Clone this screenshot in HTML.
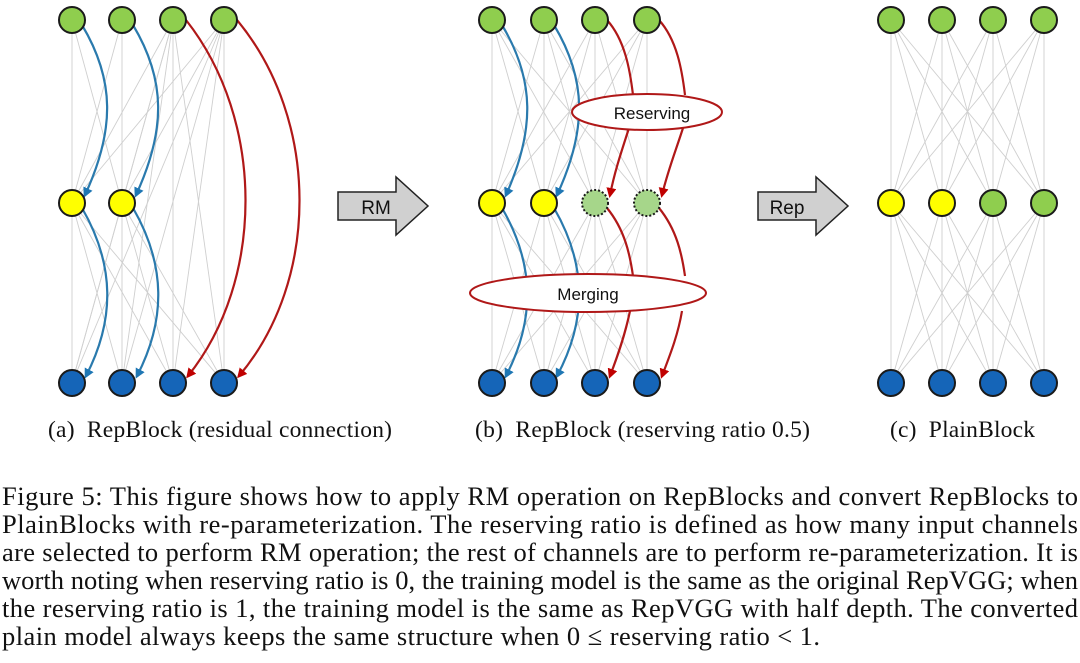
<!DOCTYPE html>
<html><head><meta charset="utf-8"><style>
html,body{margin:0;padding:0;background:#fff;}
svg{display:block;}
.t{font-family:"Liberation Serif",serif;font-size:26.5px;fill:#111;}
.c{font-family:"Liberation Serif",serif;font-size:23.5px;fill:#111;}
.s{font-family:"Liberation Sans",sans-serif;fill:#111;}
</style></head><body>
<svg id="s" width="1080" height="663" viewBox="0 0 1080 663" xmlns="http://www.w3.org/2000/svg">
<defs>
<marker id="ab" markerWidth="10" markerHeight="10" refX="7" refY="5" orient="auto" markerUnits="userSpaceOnUse"><path d="M0,0 L10,5 L0,10 z" fill="#1f77b4"/></marker>
<marker id="ar" markerWidth="10" markerHeight="10" refX="7" refY="5" orient="auto" markerUnits="userSpaceOnUse"><path d="M0,0 L10,5 L0,10 z" fill="#c00000"/></marker>
</defs>
<g id="gray" stroke="#cfcfcf" stroke-width="0.9"></g>
<g fill="none" stroke-width="2.2">
<path d="M82,25 C115,80 115,130 85,195" stroke="#2a7aad" marker-end="url(#ab)"/>
<path d="M133,25 C166,80 166,130 136,195" stroke="#2a7aad" marker-end="url(#ab)"/>
<path d="M82,208 C115,265 115,320 86,376" stroke="#2a7aad" marker-end="url(#ab)"/>
<path d="M133,208 C166,265 166,320 137,376" stroke="#2a7aad" marker-end="url(#ab)"/>
<path d="M186,20 C265,120 265,280 188,376" stroke="#b01818" marker-end="url(#ar)"/>
<path d="M237,20 C320,120 320,280 239,376" stroke="#b01818" marker-end="url(#ar)"/>
<path d="M502,25 C535,80 535,130 506,195" stroke="#2a7aad" marker-end="url(#ab)"/>
<path d="M554,25 C587,80 587,130 557,195" stroke="#2a7aad" marker-end="url(#ab)"/>
<path d="M502,208 C535,265 535,320 506,376" stroke="#2a7aad" marker-end="url(#ab)"/>
<path d="M554,208 C587,265 587,320 557,376" stroke="#2a7aad" marker-end="url(#ab)"/>
<path d="M607,20 C625,40 630,70 633,95" stroke="#b01818"/>
<path d="M659,20 C677,40 682,70 685,95" stroke="#b01818"/>
<path d="M629,128 C622,150 615,170 610,195" stroke="#b01818" marker-end="url(#ar)"/>
<path d="M683,128 C676,150 668,170 662,195" stroke="#b01818" marker-end="url(#ar)"/>
<path d="M607,208 C625,230 630,255 633,276" stroke="#b01818"/>
<path d="M659,208 C677,230 682,255 685,276" stroke="#b01818"/>
<path d="M630,311 C625,335 618,355 610,376" stroke="#b01818" marker-end="url(#ar)"/>
<path d="M682,311 C678,335 670,355 662,376" stroke="#b01818" marker-end="url(#ar)"/>
</g>
<ellipse cx="647" cy="112" rx="75" ry="18" fill="#fff" stroke="#b01818" stroke-width="2"/>
<text x="652" y="119" class="s" font-size="17" text-anchor="middle">Reserving</text>
<ellipse cx="588" cy="293" rx="118" ry="19" fill="#fff" stroke="#b01818" stroke-width="2"/>
<text x="588" y="300" class="s" font-size="17" text-anchor="middle">Merging</text>
<g id="nodes" stroke="#1a1a1a" stroke-width="2"></g>
<path d="M338,192 L396,192 L396,177 L428,206 L396,235 L396,220 L338,220 Z" fill="#d0d0d0" stroke="#222" stroke-width="1.5"/>
<text x="376" y="214" class="s" font-size="19" text-anchor="middle">RM</text>
<path d="M758,192 L816,192 L816,177 L848,206 L816,235 L816,220 L758,220 Z" fill="#d0d0d0" stroke="#222" stroke-width="1.5"/>
<text x="787" y="214" class="s" font-size="19" text-anchor="middle">Rep</text>
<text x="48" y="437" class="c" textLength="344" lengthAdjust="spacing">(a)&#160;&#160;RepBlock (residual connection)</text>
<text x="475" y="437" class="c" textLength="335" lengthAdjust="spacing">(b)&#160;&#160;RepBlock (reserving ratio 0.5)</text>
<text x="890" y="437" class="c" textLength="145" lengthAdjust="spacing">(c)&#160;&#160;PlainBlock</text>
<text x="2" y="505" class="t" textLength="1076" lengthAdjust="spacing">Figure 5: This figure shows how to apply RM operation on RepBlocks and convert RepBlocks to</text>
<text x="2" y="533" class="t" textLength="1076" lengthAdjust="spacing">PlainBlocks with re-parameterization. The reserving ratio is defined as how many input channels</text>
<text x="2" y="561" class="t" textLength="1076" lengthAdjust="spacing">are selected to perform RM operation; the rest of channels are to perform re-parameterization. It is</text>
<text x="2" y="589" class="t" textLength="1076" lengthAdjust="spacing">worth noting when reserving ratio is 0, the training model is the same as the original RepVGG; when</text>
<text x="2" y="617" class="t" textLength="1076" lengthAdjust="spacing">the reserving ratio is 1, the training model is the same as RepVGG with half depth. The converted</text>
<text x="2" y="645" class="t" textLength="818" lengthAdjust="spacing">plain model always keeps the same structure when 0 ≤ reserving ratio &lt; 1.</text>
</svg>
<script>
var NS="http://www.w3.org/2000/svg";
var panels=[[72,122,173,224],[492,544,595,647],[891,942,993,1044]];
var rows=[20,203,383];
var g=document.getElementById("gray"),n=document.getElementById("nodes");
function el(t,a,p){var e=document.createElementNS(NS,t);for(var k in a)e.setAttribute(k,a[k]);p.appendChild(e);return e;}
panels.forEach(function(xs,pi){
 var mids=pi==0?xs.slice(0,2):xs;
 xs.forEach(function(a){mids.forEach(function(b){el("line",{x1:a,y1:rows[0],x2:b,y2:rows[1]},g);});});
 mids.forEach(function(a){xs.forEach(function(b){el("line",{x1:a,y1:rows[1],x2:b,y2:rows[2]},g);});});
 if(pi==0){xs.slice(2).forEach(function(a){xs.forEach(function(b){el("line",{x1:a,y1:rows[0],x2:b,y2:rows[2]},g);});});}
 xs.forEach(function(x,i){
  el("circle",{cx:x,cy:rows[0],r:13,fill:"#8fce4e"},n);
  if(!(pi==0&&i>=2)){
   var a={cx:x,cy:rows[1],r:13,fill:i<2?"#ffff00":"#8fce4e"};
   if(pi==1&&i>=2){a.fill="#a6d68a";a["stroke-dasharray"]="2,2";}
   el("circle",a,n);
  }
  el("circle",{cx:x,cy:rows[2],r:13,fill:"#1565b8"},n);
 });
});
</script>
</body></html>
